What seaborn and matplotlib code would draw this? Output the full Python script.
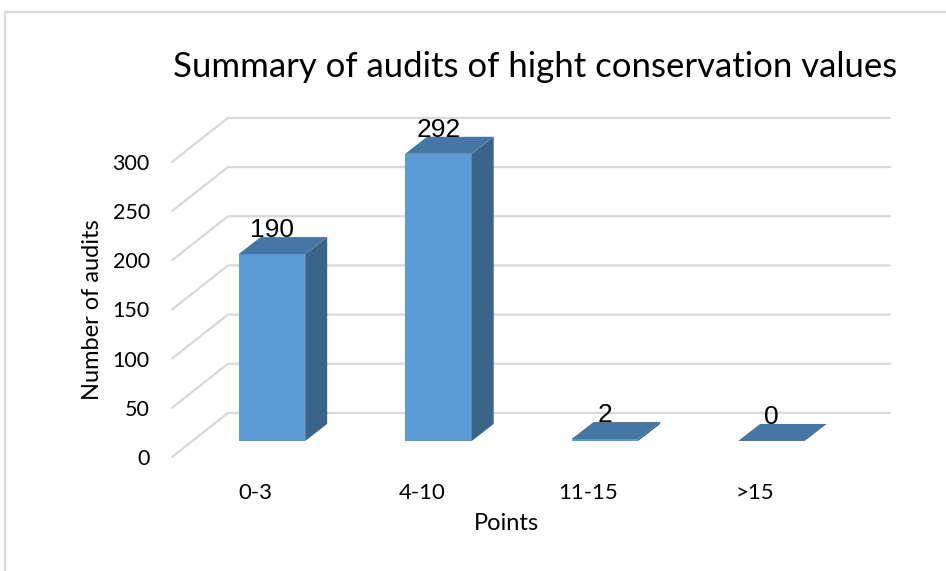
import seaborn as sns
import matplotlib.pyplot as plt
from matplotlib.patches import Polygon, Rectangle
import pandas as pd

# data
categories = ['0-3', '4-10', '11-15', '>15']
audits = [190, 292, 2, 0]
yticks = [0, 50, 100, 150, 200, 250, 300]

# colours (Excel 3D column look)
col_front = '#5b9bd5'
col_side = '#3b6489'
col_top = '#4676a3'
col_grid = '#d9d9d9'

sns.set_style('white')
plt.rcParams['font.family'] = ['Lato', 'DejaVu Sans']
plt.rcParams['text.color'] = 'black'
plt.rcParams['xtick.color'] = 'black'
plt.rcParams['ytick.color'] = 'black'

fig = plt.figure(figsize=(9.46, 5.71), dpi=100)
ax = fig.add_axes([172 / 946, 1 - 457 / 571, 718 / 946, 357 / 571])

df = pd.DataFrame({'Points': categories, 'Audits': audits})
sns.barplot(data=df, x='Points', y='Audits', color=col_front, width=0.4,
            saturation=1, ax=ax, zorder=3)

ax.set_xlim(-0.5, 3.812)
ax.set_ylim(0, 363)

# 3D offsets in data units (category / value)
bar_dx, bar_dy = 0.10, 16.3      # bars sit back from the front floor edge
dep_dx, dep_dy = 0.132, 17.3     # depth of each column
wall_dx, wall_dy = 0.336, 44.8   # back wall

# gridlines: side wall diagonal + back wall horizontal
x0 = -0.5
for v in yticks:
    ax.plot([x0, x0 + wall_dx, 3.812], [v, v + wall_dy, v + wall_dy],
            color=col_grid, lw=1.6, zorder=1, clip_on=False)

# shift front faces back and add side/top faces
for p, val in zip(ax.patches, audits):
    p.set_x(p.get_x() + bar_dx)
    p.set_y(bar_dy)
    p.set_edgecolor('none')
    xa = p.get_x()
    xb = xa + p.get_width()
    yb = bar_dy
    yt = bar_dy + val
    side = Polygon([(xb, yb), (xb + dep_dx, yb + dep_dy),
                    (xb + dep_dx, yt + dep_dy), (xb, yt)],
                   closed=True, facecolor=col_side, edgecolor='none', zorder=3)
    top = Polygon([(xa, yt), (xb, yt), (xb + dep_dx, yt + dep_dy),
                   (xa + dep_dx, yt + dep_dy)],
                  closed=True, facecolor=col_top, edgecolor='none', zorder=4)
    ax.add_patch(side)
    ax.add_patch(top)
    ax.text(xa + p.get_width() / 2, yt + dep_dy, str(val), ha='center',
            va='baseline', fontsize=19, family=['Liberation Sans'], zorder=5)

sns.despine(ax=ax, left=True, bottom=True)
ax.set_yticks(yticks)
ax.set_yticklabels([str(v) for v in yticks])
ax.tick_params(axis='y', length=0, pad=16, labelsize=15.5)
ax.tick_params(axis='x', length=0, pad=19, labelsize=16)
ax.set_xlabel('')
ax.set_ylabel('')
ax.patch.set_alpha(0)

fig.text(506 / 946, 1 - 524 / 571, 'Points', ha='center', va='center', fontsize=17)
fig.text(92 / 946, 1 - 310 / 571, 'Number of audits', ha='center', va='center',
         rotation=90, fontsize=17)
fig.text(535 / 946, 1 - 67 / 571, 'Summary of audits of hight conservation values',
         ha='center', va='center', fontsize=25)

# chart area border
fig.patches.append(Rectangle((5 / 946, -0.1), 2, 1 - 12 / 571 + 0.1,
                             transform=fig.transFigure, fill=False,
                             edgecolor=col_grid, lw=1.5))

fig.savefig('out.png', dpi=100)
